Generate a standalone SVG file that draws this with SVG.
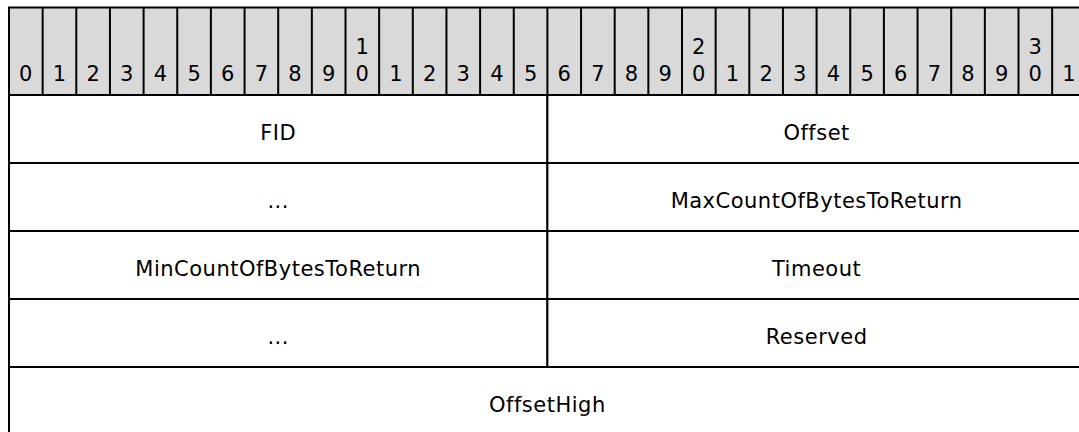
<svg xmlns="http://www.w3.org/2000/svg" width="1079" height="432" viewBox="0 0 1079 432">
<style>
.hc{fill:#d9d9d9;stroke:#000;stroke-width:2}
.f{fill:#fff;stroke:#000;stroke-width:2}
text{font-family:"DejaVu Sans","Liberation Sans",sans-serif;font-size:21px;fill:#000;text-anchor:middle}
.l{letter-spacing:0.5px}
</style>
<rect width="1079" height="432" fill="#fff"/>
<g id="header">
<rect class="hc" x="9" y="7.5" width="1076.8" height="87.5"/>
<path d="M42.65 7.5V95M76.3 7.5V95M109.95 7.5V95M143.6 7.5V95M177.25 7.5V95M210.9 7.5V95M244.55 7.5V95M278.2 7.5V95M311.85 7.5V95M345.5 7.5V95M379.15 7.5V95M412.8 7.5V95M446.45 7.5V95M480.1 7.5V95M513.75 7.5V95M547.4 7.5V95M581.05 7.5V95M614.7 7.5V95M648.35 7.5V95M682 7.5V95M715.65 7.5V95M749.3 7.5V95M782.95 7.5V95M816.6 7.5V95M850.25 7.5V95M883.9 7.5V95M917.55 7.5V95M951.2 7.5V95M984.85 7.5V95M1018.5 7.5V95M1052.15 7.5V95" stroke="#000" stroke-width="2" fill="none"/>
<text x="25.8" y="81">0</text><text x="59.5" y="81">1</text><text x="93.1" y="81">2</text><text x="126.8" y="81">3</text><text x="160.4" y="81">4</text><text x="194.1" y="81">5</text><text x="227.7" y="81">6</text><text x="261.4" y="81">7</text><text x="295" y="81">8</text><text x="328.7" y="81">9</text>
<text x="362.3" y="54">1</text><text x="362.3" y="81">0</text><text x="396" y="81">1</text><text x="429.6" y="81">2</text><text x="463.3" y="81">3</text><text x="496.9" y="81">4</text><text x="530.6" y="81">5</text><text x="564.2" y="81">6</text><text x="597.9" y="81">7</text><text x="631.5" y="81">8</text><text x="665.2" y="81">9</text>
<text x="698.8" y="54">2</text><text x="698.8" y="81">0</text><text x="732.5" y="81">1</text><text x="766.1" y="81">2</text><text x="799.8" y="81">3</text><text x="833.4" y="81">4</text><text x="867.1" y="81">5</text><text x="900.7" y="81">6</text><text x="934.4" y="81">7</text><text x="968" y="81">8</text><text x="1001.7" y="81">9</text>
<text x="1035.3" y="54">3</text><text x="1035.3" y="81">0</text><text x="1069" y="81">1</text>
</g>
<g id="field-fid"><rect class="f" x="9" y="95" width="538.4" height="68"/><text class="l" x="278.2" y="140">FID</text></g>
<g id="field-offset"><rect class="f" x="547.4" y="95" width="538.4" height="68"/><text class="l" x="816.6" y="140">Offset</text></g>
<g id="field-fid-cont"><rect class="f" x="9" y="163" width="538.4" height="68"/><text class="l" x="278.2" y="208">...</text></g>
<g id="field-maxcount"><rect class="f" x="547.4" y="163" width="538.4" height="68"/><text class="l" x="816.6" y="208">MaxCountOfBytesToReturn</text></g>
<g id="field-mincount"><rect class="f" x="9" y="231" width="538.4" height="68"/><text class="l" x="278.2" y="276">MinCountOfBytesToReturn</text></g>
<g id="field-timeout"><rect class="f" x="547.4" y="231" width="538.4" height="68"/><text class="l" x="816.6" y="276">Timeout</text></g>
<g id="field-timeout-cont"><rect class="f" x="9" y="299" width="538.4" height="68"/><text class="l" x="278.2" y="344">...</text></g>
<g id="field-reserved"><rect class="f" x="547.4" y="299" width="538.4" height="68"/><text class="l" x="816.6" y="344">Reserved</text></g>
<g id="field-offsethigh"><rect class="f" x="9" y="367" width="1076.8" height="68"/><text class="l" x="547.4" y="412">OffsetHigh</text></g>
<g id="connectors"/>
</svg>
